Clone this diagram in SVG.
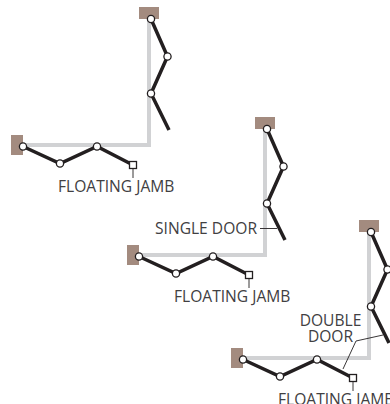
<svg xmlns="http://www.w3.org/2000/svg" width="390" height="404" viewBox="0 0 390 404">
<style>
.w{fill:#a38b7f}
.g{fill:none;stroke:#d1d2d4;stroke-width:4}
.d{fill:none;stroke:#231f20;stroke-width:3.500}
.h{fill:#fff;stroke:#231f20;stroke-width:1.300}
.l{fill:none;stroke:#231f20;stroke-width:.9}
text{font-family:"Open Sans","Noto Sans",sans-serif;font-size:15.6px;fill:#414042}
</style>
<defs>
<g id="door">
<rect class="w" x="139" y="7" width="20" height="12"/>
<rect class="w" x="11" y="135" width="12" height="20"/>
<path class="g" d="M149 19V145H23"/>
<path class="d" d="M151 19L167.500 56.500L151 93.500L169 130"/>
<path class="d" d="M23 146.500L60 163.500L97 146.500L133 165"/>
<circle class="h" cx="151" cy="19" r="3.600"/>
<circle class="h" cx="167.500" cy="56.500" r="3.600"/>
<circle class="h" cx="151" cy="93.500" r="3.600"/>
<circle class="h" cx="23" cy="146.500" r="3.600"/>
<circle class="h" cx="60" cy="163.500" r="3.600"/>
<circle class="h" cx="97" cy="146.500" r="3.600"/>
<rect class="h" x="129.500" y="161.500" width="7" height="7"/>
<path class="l" d="M133 169V178"/>
</g>
</defs>
<g id="door-a">
<use href="#door"/>
<text x="58" y="192">FLOATING JAMB</text>
</g>
<g id="door-b" transform="translate(116 110)">
<use href="#door"/>
<text x="58" y="192">FLOATING JAMB</text>
</g>
<g id="door-c" transform="translate(220 213)">
<use href="#door"/>
<text x="58" y="192">FLOATING JAMB</text>
</g>
<g id="connectors">
<path class="l" d="M260 228.500H277"/>
<path class="l" d="M343 369L356 341L383 335"/>
</g>
<g id="labels">
<text x="155" y="234">SINGLE DOOR</text>
<text x="330.500" y="326" text-anchor="middle">DOUBLE</text>
<text x="330.500" y="342" text-anchor="middle">DOOR</text>
</g>
</svg>
